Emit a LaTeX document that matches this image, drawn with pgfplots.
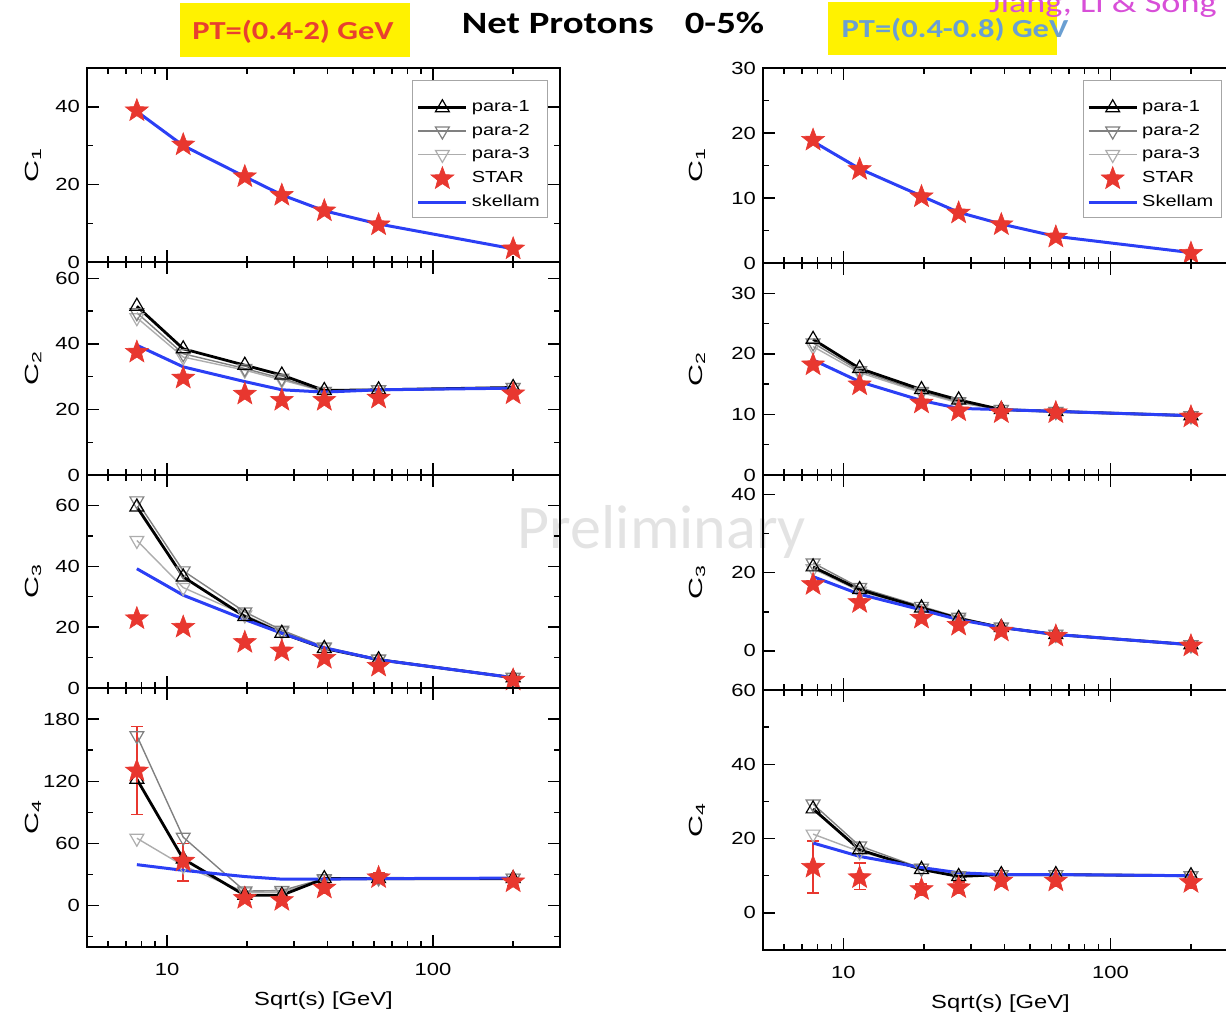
\documentclass[border=0pt]{standalone}
\usepackage{fontspec}
\setmainfont{Liberation Sans}[FakeStretch=1.25]
\newfontfamily\ylab{Liberation Sans}[FakeStretch=1.6]
\newfontfamily\carlito{Carlito}[FakeStretch=1.25]
\newfontfamily\carlitoplain{Carlito}
\usepackage{pgfplots}
\pgfplotsset{compat=1.18}
\usepackage{pgfplotstable}

\definecolor{starred}{HTML}{E8372F}
\definecolor{skblue}{HTML}{2B3FF5}
\definecolor{ptred}{HTML}{E8402F}
\definecolor{ptblue}{HTML}{6A9FD2}
\definecolor{authmag}{HTML}{D84FD8}
\definecolor{p2gray}{gray}{0.5}
\definecolor{p3gray}{gray}{0.68}

% filled five-point star
\pgfdeclareplotmark{fstar}{%
  \pgfpathmoveto{\pgfpointpolar{90}{\pgfplotmarksize}}%
  \pgfpathlineto{\pgfpointpolar{126}{0.42\pgfplotmarksize}}%
  \pgfpathlineto{\pgfpointpolar{162}{\pgfplotmarksize}}%
  \pgfpathlineto{\pgfpointpolar{198}{0.42\pgfplotmarksize}}%
  \pgfpathlineto{\pgfpointpolar{234}{\pgfplotmarksize}}%
  \pgfpathlineto{\pgfpointpolar{270}{0.42\pgfplotmarksize}}%
  \pgfpathlineto{\pgfpointpolar{306}{\pgfplotmarksize}}%
  \pgfpathlineto{\pgfpointpolar{342}{0.42\pgfplotmarksize}}%
  \pgfpathlineto{\pgfpointpolar{18}{\pgfplotmarksize}}%
  \pgfpathlineto{\pgfpointpolar{54}{0.42\pgfplotmarksize}}%
  \pgfpathclose
  \pgfusepathqfillstroke}

% left column, pT = 0.4-2 GeV
\pgfplotstableread{
x st sk
7.7 39.0 38.8
11.5 30.2 30.0
19.6 22.0 22.0
27 17.2 17.3
39 13.2 13.2
62.4 9.6 9.8
200 3.4 3.4
}\LA
\pgfplotstableread{
x p1 p2 p3 st sk
7.7 51.5 49.5 48.0 37.5 39.6
11.5 38.5 37.0 36.0 29.6 33.0
19.6 33.5 32.5 32.0 24.7 28.5
27 30.5 29.5 29.0 22.8 26.0
39 25.8 25.5 25.5 22.8 25.3
62.4 26.0 26.0 26.0 23.5 26.0
200 26.7 26.7 26.7 24.8 26.5
}\LB
\pgfplotstableread{
x p1 p2 p3 st sk
7.7 59.5 61.5 48.5 22.8 39.2
11.5 36.5 38.5 33.0 20.0 30.5
19.6 23.5 25.0 24.0 15.0 22.5
27 18.0 19.0 18.5 12.2 18.0
39 13.0 13.5 13.2 9.8 13.2
62.4 9.3 9.5 9.4 7.2 9.3
200 3.4 3.5 3.4 2.6 3.4
}\LC
\pgfplotstableread{
x p1 p2 p3 st ep em sk
7.7 122 164 65 130 43 42 39.5
11.5 45 66 38.5 43 17 19 34.0
19.6 10 14 13 7 4 4 28.0
27 10 14.5 13 5 4 4 25.5
39 26 26 25 17 5 5 25.5
62.4 26 27 26.5 27 5 5 26.0
200 26 26.5 26.5 23 4 4 26.5
}\LD

% right column, pT = 0.4-0.8 GeV
\pgfplotstableread{
x st sk
7.7 18.9 18.7
11.5 14.4 14.5
19.6 10.2 10.3
27 7.7 7.8
39 5.9 6.0
62.4 4.0 4.1
200 1.5 1.6
}\RA
\pgfplotstableread{
x p1 p2 p3 st sk
7.7 22.4 21.8 21.2 18.2 19.0
11.5 17.6 17.2 16.9 14.9 15.4
19.6 14.1 13.8 13.6 11.9 12.3
27 12.4 12.1 11.9 10.6 11.0
39 10.8 10.8 10.8 10.3 10.8
62.4 10.5 10.5 10.5 10.3 10.5
200 9.8 9.8 9.8 9.6 9.8
}\RB
\pgfplotstableread{
x p1 p2 p3 st sk
7.7 21.5 22.5 21.0 17.0 19.0
11.5 15.7 16.2 15.3 12.4 14.5
19.6 11.0 11.4 10.8 8.4 10.5
27 8.3 8.6 8.1 6.6 8.0
39 6.0 6.1 6.0 5.1 6.0
62.4 4.2 4.3 4.2 3.8 4.2
200 1.6 1.6 1.6 1.3 1.6
}\RC
\pgfplotstableread{
x p1 p2 p3 st ep em sk
7.7 28.0 29.3 21.2 12.3 7.0 7.0 18.8
11.5 17.0 18.0 16.5 9.5 4.0 3.2 15.2
19.6 11.7 12.0 12.0 6.3 1.5 1.5 12.2
27 9.8 10.0 10.0 6.8 1.5 1.5 10.8
39 10.3 10.3 10.3 8.6 1.5 1.5 10.3
62.4 10.3 10.3 10.3 8.6 1.5 1.5 10.3
200 10.0 10.0 10.0 8.2 1.5 1.5 10.0
}\RD

% plot styles: plain TikZ keys only
\tikzset{
  paraone/.style={black, line width=1.4pt, mark=triangle, mark size=4pt,
    mark options={solid, fill=white, draw=black, line width=0.6pt}},
  paratwo/.style={p2gray, line width=0.7pt, mark=triangle, mark size=4pt,
    mark options={solid, fill=white, draw=p2gray, rotate=180, line width=0.6pt}},
  parathree/.style={p3gray, line width=0.7pt, mark=triangle, mark size=4pt,
    mark options={solid, fill=white, draw=p3gray, rotate=180, line width=0.6pt}},
  starplot/.style={only marks, mark=fstar, mark size=6pt, color=starred,
    mark options={fill=starred, draw=starred, line width=0.3pt}},
  skellamplot/.style={skblue, line width=1.5pt},
}

\pgfplotsset{every axis/.append style={
    scale only axis, xmode=log, xmin=5, xmax=300,
    xtick={10,100}, xticklabels={},
    minor xtick={6,7,8,9,20,30,40,50,60,70,80,90,200,300},
    tick align=inside, major tick length=6pt, minor tick length=3pt,
    axis line style={line width=0.9pt},
    every tick/.style={black, line width=0.7pt},
    tick label style={font=\fontsize{8.8}{10}\selectfont},
    xticklabel style={yshift=-4.5pt},
    /pgf/number format/assume math mode=true,
    legend style={draw=gray!70, line width=0.5pt, font=\fontsize{8}{9.5}\selectfont,
      anchor=north east, row sep=0.6pt, inner sep=2pt},
    legend cell align=left,
    legend image code/.code={\draw[mark repeat=2, mark phase=2, #1]
      plot coordinates {(0pt,0pt) (12pt,0pt) (24pt,0pt)};},
    ylabel style={font=\ylab\fontsize{9.5}{11}\selectfont},
    xlabel style={font=\fontsize{9.5}{11}\selectfont, yshift=-1pt},
}}

\begin{document}
\begin{tikzpicture}
\path[use as bounding box] (0pt,0pt) rectangle (613pt,-509.5pt);

% watermark
\node[text=gray!22, font=\carlitoplain\fontsize{31}{34}\selectfont] at (331pt,-266pt) {Preliminary};

% ---------- left column ----------
\begin{axis}[at={(43.5pt,-34pt)}, anchor=north west, width=236.5pt, height=97pt,
  ymin=0, ymax=50, ytick={0,20,40}, minor ytick={10,30},
  ylabel={C\textsubscript{1}}, ylabel style={at={(axis description cs:-0.114,0.5)}, anchor=center},
  legend style={at={(0.975,0.938)}}]
\addlegendimage{empty legend}\addlegendentry{}
\addlegendimage{paraone}\addlegendentry{para-1}
\addlegendimage{paratwo}\addlegendentry{para-2}
\addlegendimage{parathree}\addlegendentry{para-3}
\addplot[starplot] table[x=x, y=st] {\LA}; \addlegendentry{STAR}
\addplot[skellamplot] table[x=x, y=sk] {\LA}; \addlegendentry{skellam}
\end{axis}

\begin{axis}[at={(43.5pt,-131pt)}, anchor=north west, width=236.5pt, height=106.5pt,
  ymin=0, ymax=65, ytick={0,20,40,60}, minor ytick={10,30,50},
  ylabel={C\textsubscript{2}}, ylabel style={at={(axis description cs:-0.114,0.5)}, anchor=center}]
\addplot[parathree] table[x=x, y=p3] {\LB};
\addplot[paratwo] table[x=x, y=p2] {\LB};
\addplot[paraone] table[x=x, y=p1] {\LB};
\addplot[starplot] table[x=x, y=st] {\LB};
\addplot[skellamplot] table[x=x, y=sk] {\LB};
\end{axis}

\begin{axis}[at={(43.5pt,-237.5pt)}, anchor=north west, width=236.5pt, height=106.5pt,
  ymin=0, ymax=70, ytick={0,20,40,60}, minor ytick={10,30,50},
  ylabel={C\textsubscript{3}}, ylabel style={at={(axis description cs:-0.114,0.5)}, anchor=center}]
\addplot[parathree] table[x=x, y=p3] {\LC};
\addplot[paratwo] table[x=x, y=p2] {\LC};
\addplot[paraone] table[x=x, y=p1] {\LC};
\addplot[starplot] table[x=x, y=st] {\LC};
\addplot[skellamplot] table[x=x, y=sk] {\LC};
\end{axis}

\begin{axis}[at={(43.5pt,-344pt)}, anchor=north west, width=236.5pt, height=129.5pt,
  ymin=-40, ymax=210, ytick={0,60,120,180}, minor ytick={-30,30,90,150},
  xticklabels={10,100}, xlabel={Sqrt(s) [GeV]},
  ylabel={C\textsubscript{4}}, ylabel style={at={(axis description cs:-0.114,0.5)}, anchor=center}]
\addplot[parathree] table[x=x, y=p3] {\LD};
\addplot[paratwo] table[x=x, y=p2] {\LD};
\addplot[paraone] table[x=x, y=p1] {\LD};
\addplot[starplot, error bars/.cd, y dir=both, y explicit,
  error bar style={starred, line width=0.8pt},
  error mark options={starred, mark size=3pt, line width=0.8pt, rotate=90}]
  table[x=x, y=st, y error plus=ep, y error minus=em] {\LD};
\addplot[skellamplot] table[x=x, y=sk] {\LD};
\end{axis}

% ---------- right column ----------
\begin{axis}[at={(381.5pt,-34pt)}, anchor=north west, width=237.5pt, height=97.5pt,
  ymin=0, ymax=30, ytick={0,10,20,30}, minor ytick={5,15,25},
  ylabel={C\textsubscript{1}}, ylabel style={at={(axis description cs:-0.139,0.5)}, anchor=center},
  legend style={at={(0.966,0.938)}}]
\addlegendimage{empty legend}\addlegendentry{}
\addlegendimage{paraone}\addlegendentry{para-1}
\addlegendimage{paratwo}\addlegendentry{para-2}
\addlegendimage{parathree}\addlegendentry{para-3}
\addplot[starplot] table[x=x, y=st] {\RA}; \addlegendentry{STAR}
\addplot[skellamplot] table[x=x, y=sk] {\RA}; \addlegendentry{Skellam}
\end{axis}

\begin{axis}[at={(381.5pt,-131.5pt)}, anchor=north west, width=237.5pt, height=106pt,
  ymin=0, ymax=35, ytick={0,10,20,30}, minor ytick={5,15,25},
  ylabel={C\textsubscript{2}}, ylabel style={at={(axis description cs:-0.139,0.5)}, anchor=center}]
\addplot[parathree] table[x=x, y=p3] {\RB};
\addplot[paratwo] table[x=x, y=p2] {\RB};
\addplot[paraone] table[x=x, y=p1] {\RB};
\addplot[starplot] table[x=x, y=st] {\RB};
\addplot[skellamplot] table[x=x, y=sk] {\RB};
\end{axis}

\begin{axis}[at={(381.5pt,-237.5pt)}, anchor=north west, width=237.5pt, height=107.5pt,
  ymin=-10, ymax=45, ytick={0,20,40}, minor ytick={10,30},
  ylabel={C\textsubscript{3}}, ylabel style={at={(axis description cs:-0.139,0.5)}, anchor=center}]
\addplot[parathree] table[x=x, y=p3] {\RC};
\addplot[paratwo] table[x=x, y=p2] {\RC};
\addplot[paraone] table[x=x, y=p1] {\RC};
\addplot[starplot] table[x=x, y=st] {\RC};
\addplot[skellamplot] table[x=x, y=sk] {\RC};
\end{axis}

\begin{axis}[at={(381.5pt,-345pt)}, anchor=north west, width=237.5pt, height=130pt,
  ymin=-10, ymax=60, ytick={0,20,40,60}, minor ytick={10,30,50},
  xticklabels={10,100}, xlabel={Sqrt(s) [GeV]},
  ylabel={C\textsubscript{4}}, ylabel style={at={(axis description cs:-0.139,0.5)}, anchor=center}]
\addplot[parathree] table[x=x, y=p3] {\RD};
\addplot[paratwo] table[x=x, y=p2] {\RD};
\addplot[paraone] table[x=x, y=p1] {\RD};
\addplot[starplot, error bars/.cd, y dir=both, y explicit,
  error bar style={starred, line width=0.8pt},
  error mark options={starred, mark size=3pt, line width=0.8pt, rotate=90}]
  table[x=x, y=st, y error plus=ep, y error minus=em] {\RD};
\addplot[skellamplot] table[x=x, y=sk] {\RD};
\end{axis}

% ---------- header ----------
\node[fill=yellow, minimum width=115pt, minimum height=27pt, inner sep=0pt] at (147.5pt,-15pt) {};
\node[text=ptred, font=\carlito\bfseries\fontsize{13}{15}\selectfont] at (146.5pt,-16pt) {PT=(0.4-2) GeV};
\node[font=\carlito\bfseries\fontsize{15.5}{18}\selectfont] at (306.5pt,-11.5pt) {Net Protons\quad 0-5\%};
\node[fill=yellow, minimum width=114.5pt, minimum height=26.5pt, inner sep=0pt] at (471.25pt,-14.25pt) {};
\node[text=ptblue, font=\carlito\bfseries\fontsize{13}{15}\selectfont] at (477.5pt,-15pt) {PT=(0.4-0.8) GeV};
\node[text=authmag, anchor=base, font=\carlito\fontsize{14.5}{18}\selectfont] at (551.5pt,-6pt) {Jiang, Li \& Song};
\end{tikzpicture}
\end{document}
